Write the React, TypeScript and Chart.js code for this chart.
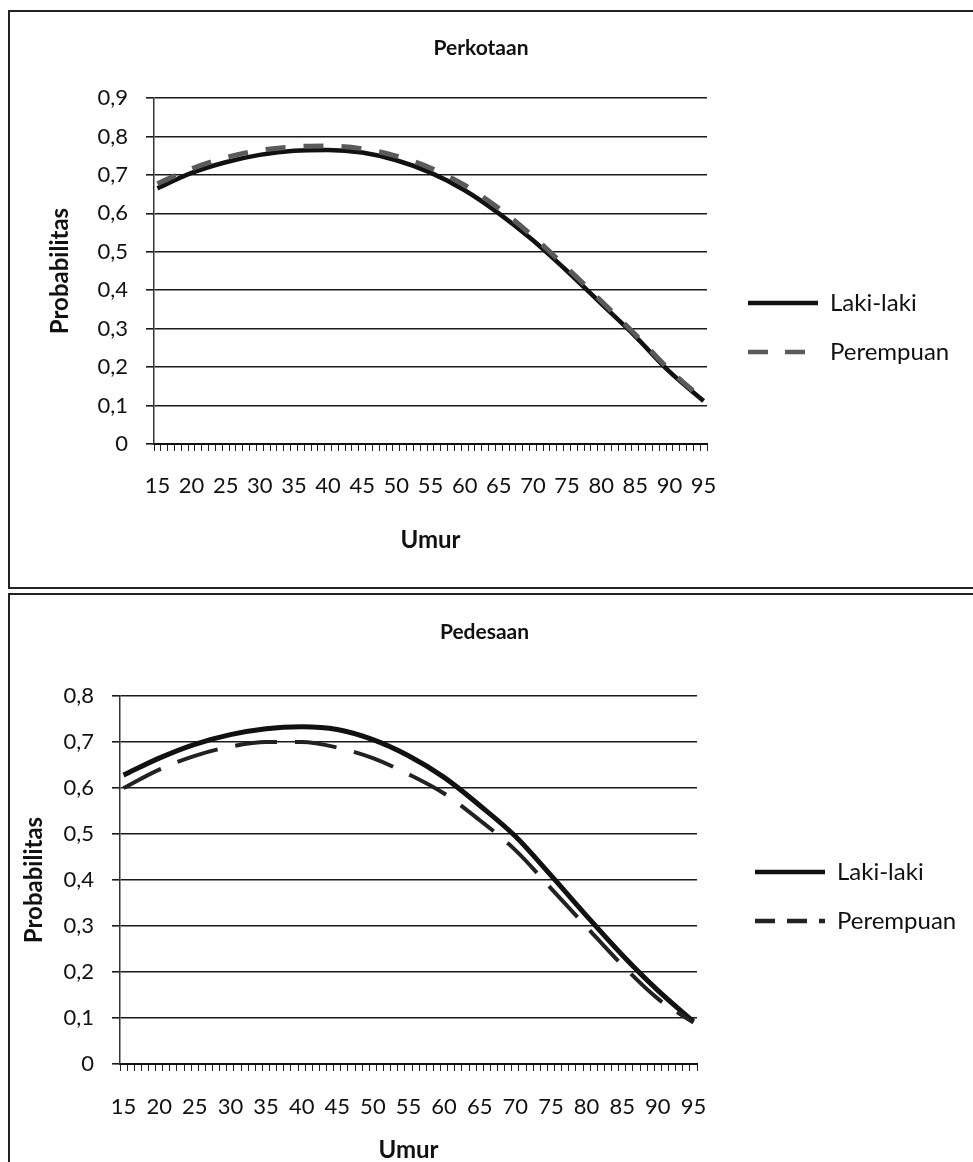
import React, { useEffect, useRef } from 'react';
import { Chart, registerables } from 'chart.js';

Chart.register(...registerables);

// Category axis: every age from 15 to 95 (one tick mark per year)
const AGES: string[] = Array.from({ length: 81 }, (_, i) => String(15 + i));
const READ_AGES: string[] = ['15', '20', '25', '30', '35', '40', '45', '50', '55', '60', '65', '70', '75', '80', '85', '90', '95'];
// Labelled ticks (every 5 years)
const LABELLED_AGES: string[] = READ_AGES;

// Perkotaan (urban)
const URBAN_MALE: number[] = [0.665, 0.705, 0.733, 0.752, 0.763, 0.765, 0.758, 0.738, 0.706, 0.66, 0.6, 0.53, 0.45, 0.365, 0.28, 0.188, 0.112];
const URBAN_FEMALE: number[] = [0.677, 0.716, 0.745, 0.764, 0.773, 0.775, 0.768, 0.749, 0.718, 0.673, 0.613, 0.54, 0.458, 0.372, 0.285, 0.193, 0.115];

// Pedesaan (rural)
const RURAL_MALE: number[] = [0.628, 0.665, 0.695, 0.716, 0.729, 0.733, 0.727, 0.705, 0.67, 0.623, 0.562, 0.495, 0.41, 0.322, 0.237, 0.16, 0.092];
const RURAL_FEMALE: number[] = [0.6, 0.64, 0.67, 0.69, 0.7, 0.7, 0.688, 0.665, 0.63, 0.588, 0.53, 0.465, 0.382, 0.298, 0.215, 0.142, 0.09];

const SERIES_NAMES: string[] = ['Laki-laki', 'Perempuan'];
const X_TITLE = 'Umur';
const Y_TITLE = 'Probabilitas';

const FONT = 'Lato';
const INK = '#111';

const fmtY = (v: number | string) => {
  const n = Number(v);
  if (Math.abs(n) < 1e-9) return '0';
  return n.toFixed(1).replace('.', ',');
};

type Layout = {
  title: string;
  yMax: number;
  maleData: number[];
  femaleData: number[];
  maleWidth: number;
  femaleColor: string;
  femaleWidth: number;
  femaleDash: number[];
  legendFemaleDash: number[];
  areaLeft: number;
  areaTop: number;
  areaBottom: number;
  areaRight: number;
  yTitlePad: number;
  xTickPad: number;
  xTitlePadBottom: number;
  titlePadTop: number;
  legendGap: number;
  legendTop: number;
};

const CANVAS_W = 964;
const CANVAS_H = 576;
const LEGEND_W = 230;
const LEGEND_PAD = 25;
const TITLE_FONT = 21;

function buildConfig(L: Layout): any {
  const points = (vals: number[]) => READ_AGES.map((a, i) => ({ x: a, y: vals[i] }));
  const padRight = CANVAS_W - L.areaRight - L.legendGap - LEGEND_W;
  return {
    type: 'line',
    data: {
      labels: AGES,
      datasets: [
        {
          label: SERIES_NAMES[0],
          data: points(L.maleData),
          borderColor: INK,
          backgroundColor: INK,
          borderWidth: L.maleWidth,
          pointRadius: 0,
          cubicInterpolationMode: 'monotone',
          fill: false,
          order: 1,
          legendDash: [],
          legendWidth: 4.5,
        },
        {
          label: SERIES_NAMES[1],
          data: points(L.femaleData),
          borderColor: L.femaleColor,
          backgroundColor: L.femaleColor,
          borderWidth: L.femaleWidth,
          borderDash: L.femaleDash,
          pointRadius: 0,
          cubicInterpolationMode: 'monotone',
          fill: false,
          order: 0,
          legendDash: L.legendFemaleDash,
          legendWidth: 4.5,
        },
      ],
    },
    options: {
      responsive: false,
      animation: false,
      devicePixelRatio: 1,
      layout: { padding: { left: 0, top: 0, bottom: 0, right: padRight } },
      plugins: {
        tooltip: { enabled: false },
        title: {
          display: true,
          text: L.title,
          color: INK,
          font: { family: FONT, size: TITLE_FONT, weight: 'bold', lineHeight: 1.2 },
          padding: { top: L.titlePadTop, bottom: L.areaTop - L.titlePadTop - TITLE_FONT * 1.2 },
        },
        legend: {
          display: true,
          position: 'right',
          align: 'start',
          fullSize: false,
          maxWidth: LEGEND_W,
          title: {
            display: true,
            text: '',
            font: { family: FONT, size: 10, lineHeight: 1 },
            padding: { top: 0, bottom: L.legendTop - L.areaTop - LEGEND_PAD - 12 - 10 },
          },
          labels: {
            usePointStyle: true,
            pointStyleWidth: 70,
            padding: LEGEND_PAD,
            color: INK,
            font: { family: FONT, size: 24 },
            generateLabels: (chart: any) =>
              chart.data.datasets.map((ds: any, i: number) => ({
                text: ds.label,
                datasetIndex: i,
                hidden: false,
                pointStyle: 'line',
                strokeStyle: ds.borderColor,
                fillStyle: ds.borderColor,
                lineWidth: ds.legendWidth,
                lineDash: ds.legendDash,
                lineDashOffset: 0,
                lineCap: 'butt',
                fontColor: INK,
              })),
          },
        },
      },
      scales: {
        x: {
          type: 'category',
          offset: true,
          grid: {
            display: true,
            drawOnChartArea: false,
            drawTicks: true,
            tickLength: 7,
            color: '#222',
            lineWidth: 1,
            offset: true,
          },
          border: { display: true, color: INK, width: 2 },
          ticks: {
            autoSkip: false,
            maxRotation: 0,
            minRotation: 0,
            padding: L.xTickPad,
            color: INK,
            font: { family: FONT, size: 22 },
            callback: (_v: any, idx: number) => (LABELLED_AGES.includes(AGES[idx]) ? AGES[idx] : ''),
          },
          title: {
            display: true,
            text: X_TITLE,
            color: INK,
            font: { family: FONT, size: 24, weight: 'bold', lineHeight: 1.2 },
            padding: { top: 0, bottom: L.xTitlePadBottom },
          },
          afterFit: (s: any) => {
            s.height = CANVAS_H - L.areaBottom;
          },
        },
        y: {
          type: 'linear',
          min: 0,
          max: L.yMax,
          ticks: {
            stepSize: 0.1,
            padding: 18,
            color: INK,
            font: { family: FONT, size: 22 },
            callback: (v: any) => fmtY(v),
          },
          grid: { color: '#1a1a1a', lineWidth: 1.6, drawTicks: true, tickLength: 8 },
          border: { display: true, color: '#333', width: 1.5 },
          title: {
            display: true,
            text: Y_TITLE,
            color: INK,
            font: { family: FONT, size: 24, weight: 'bold', lineHeight: 1.2 },
            padding: { top: L.yTitlePad, bottom: 0 },
          },
          afterFit: (s: any) => {
            s.width = L.areaLeft;
          },
        },
        spacer: {
          type: 'linear',
          position: 'right',
          display: true,
          grid: { display: false, drawTicks: false },
          border: { display: false },
          ticks: { display: false },
          title: { display: false },
          afterFit: (s: any) => {
            s.width = L.legendGap;
          },
        },
      },
    },
  };
}

function ChartPanel({ layout, left, top }: { layout: Layout; left: number; top: number }) {
  const ref = useRef<HTMLCanvasElement | null>(null);
  useEffect(() => {
    if (!ref.current) return;
    const chart = new Chart(ref.current, buildConfig(layout));
    return () => chart.destroy();
  }, [layout]);
  return (
    <canvas
      ref={ref}
      width={CANVAS_W}
      height={CANVAS_H}
      style={{ position: 'absolute', left, top, width: CANVAS_W, height: CANVAS_H }}
    />
  );
}

const URBAN_LAYOUT: Layout = {
  title: 'Perkotaan',
  yMax: 0.9,
  maleData: URBAN_MALE,
  femaleData: URBAN_FEMALE,
  maleWidth: 4.5,
  femaleColor: '#5a5a5a',
  femaleWidth: 5,
  femaleDash: [20, 18],
  legendFemaleDash: [20, 17],
  areaLeft: 145,
  areaTop: 87,
  areaBottom: 433,
  areaRight: 698,
  yTitlePad: 36.6,
  xTickPad: 22,
  xTitlePadBottom: 32.6,
  titlePadTop: 25,
  legendGap: 16,
  legendTop: 292,
};

const RURAL_LAYOUT: Layout = {
  title: 'Pedesaan',
  yMax: 0.8,
  maleData: RURAL_MALE,
  femaleData: RURAL_FEMALE,
  maleWidth: 5,
  femaleColor: '#222',
  femaleWidth: 4,
  femaleDash: [42, 18],
  legendFemaleDash: [20, 12],
  areaLeft: 111,
  areaTop: 102,
  areaBottom: 470,
  areaRight: 688,
  yTitlePad: 10.6,
  xTickPad: 22.8,
  xTitlePadBottom: 5.6,
  titlePadTop: 26,
  legendGap: 33,
  legendTop: 278,
};

export default function App() {
  return (
    <div
      style={{
        position: 'absolute',
        left: 0,
        top: 0,
        width: 973,
        height: 1162,
        overflow: 'hidden',
        background: '#ffffff',
      }}
    >
      <div
        style={{
          position: 'absolute',
          left: 8,
          top: 10,
          width: 1000,
          height: 575,
          border: '2px solid #222',
        }}
      />
      <div
        style={{
          position: 'absolute',
          left: 8,
          top: 593,
          width: 1000,
          height: 620,
          border: '2px solid #222',
        }}
      />
      <ChartPanel layout={URBAN_LAYOUT} left={9} top={11} />
      <ChartPanel layout={RURAL_LAYOUT} left={9} top={594} />
    </div>
  );
}
